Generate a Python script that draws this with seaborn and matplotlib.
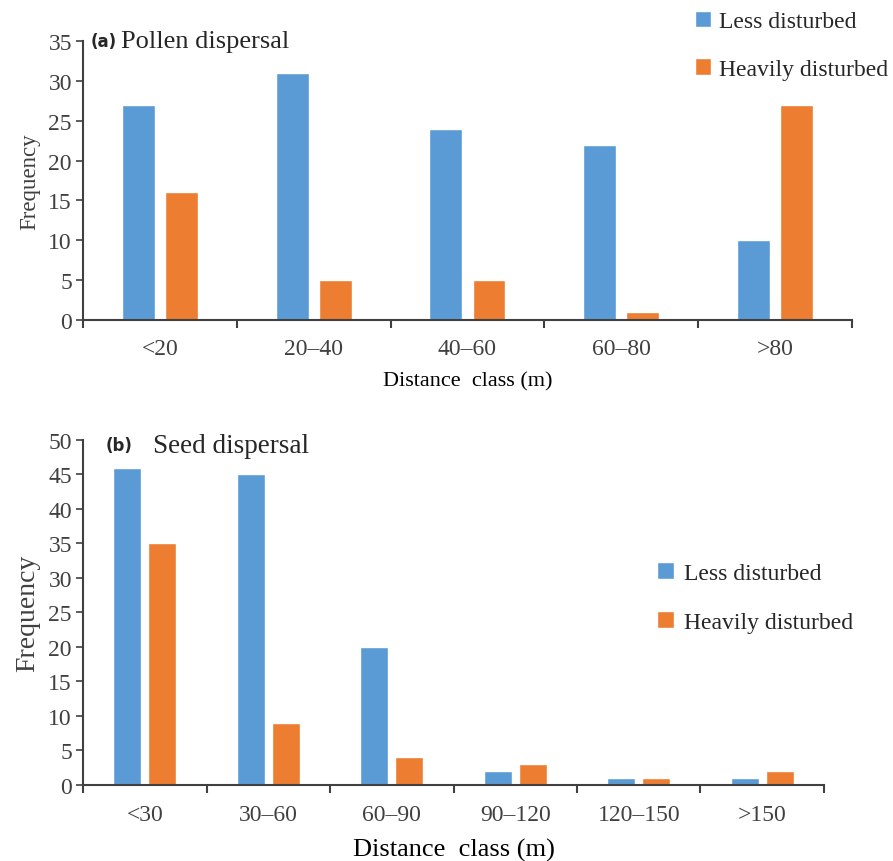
import pandas as pd
import seaborn as sns
import matplotlib.pyplot as plt
from matplotlib.ticker import FixedLocator

# Data
groups = ['Less disturbed', 'Heavily disturbed']
colors = ['#5B9BD5', '#ED7D31']

pollen_classes = ['<20', '20\u201340', '40\u201360', '60\u201380', '>80']
pollen_less = [27, 31, 24, 22, 10]
pollen_heavy = [16, 5, 5, 1, 27]

seed_classes = ['<30', '30\u201360', '60\u201390', '90\u2013120', '120\u2013150', '>150']
seed_less = [46, 45, 20, 2, 1, 1]
seed_heavy = [35, 9, 4, 3, 1, 2]


def long_df(classes, less, heavy):
    return pd.DataFrame({
        'cls': classes * 2,
        'freq': less + heavy,
        'grp': [groups[0]] * len(classes) + [groups[1]] * len(classes),
    })


sns.set_style('white')
plt.rcParams['font.family'] = ['Liberation Serif', 'DejaVu Serif']
spine_col = '#404040'

fig = plt.figure(figsize=(8.93, 8.62), dpi=100)
ax1 = fig.add_axes([0.093, 0.6276, 0.861, 0.3237])
ax2 = fig.add_axes([0.093, 0.0882, 0.8297, 0.4002])


def draw(ax, classes, less, heavy, ymax, width, gap, ylab_fs, xlab_fs, xpad, lpad):
    df = long_df(classes, less, heavy)
    sns.barplot(data=df, x='cls', y='freq', hue='grp', order=classes,
                hue_order=groups, palette=colors, width=width, gap=gap,
                saturation=1, ax=ax, legend=True)
    n = len(classes)
    ax.set_xlim(-0.5, n - 0.5)
    ax.set_ylim(0, ymax)
    ax.set_yticks(range(0, ymax + 1, 5))
    ax.xaxis.set_minor_locator(FixedLocator([i - 0.5 for i in range(n + 1)]))
    ax.tick_params(axis='x', which='major', length=0, pad=xpad, labelsize=17, labelcolor='#404040')
    ax.tick_params(axis='x', which='minor', length=6, width=1.5, color=spine_col, direction='out', bottom=True)
    ax.tick_params(axis='y', length=5, width=1.2, color=spine_col, direction='out', left=True,
                   labelsize=17, labelcolor='#404040', pad=3)
    for s in ['top', 'right']:
        ax.spines[s].set_visible(False)
    for s in ['left', 'bottom']:
        ax.spines[s].set_color(spine_col)
        ax.spines[s].set_linewidth(1.5)
    ax.set_ylabel('Frequency', fontsize=ylab_fs, color='#404040', labelpad=6)
    ax.set_xlabel('Distance  class (m)', fontsize=xlab_fs, color='black', labelpad=lpad)
    handles, labels = ax.get_legend_handles_labels()
    ax.get_legend().remove()
    return handles, labels


h1, l1 = draw(ax1, pollen_classes, pollen_less, pollen_heavy, 35, 0.56, 0.235, 16.5, 16, 13, 9)
fig.legend(h1, l1, loc='upper left', bbox_to_anchor=(0.754, 1.011), frameon=False,
           fontsize=17, handlelength=0.7, handleheight=0.7, handletextpad=0.35,
           labelspacing=1.1)
ax1.text(0.01, 1.0, '(a)', transform=ax1.transAxes, fontsize=12, fontweight='bold',
         family='DejaVu Sans', va='center', ha='left')
ax1.text(0.05, 1.0, 'Pollen dispersal', transform=ax1.transAxes, fontsize=19,
         va='center', ha='left')

h2, l2 = draw(ax2, seed_classes, seed_less, seed_heavy, 50, 0.567, 0.2, 20, 19, 14, 9)
fig.legend(h2, l2, loc='upper left', bbox_to_anchor=(0.712, 0.371), frameon=False,
           fontsize=17, handlelength=0.7, handleheight=0.7, handletextpad=0.45,
           labelspacing=1.15)
ax2.text(0.03, 0.985, '(b)', transform=ax2.transAxes, fontsize=12, fontweight='bold',
         family='DejaVu Sans', va='center', ha='left')
ax2.text(0.095, 0.985, 'Seed dispersal', transform=ax2.transAxes, fontsize=19.5,
         va='center', ha='left')

fig.savefig('out.png', dpi=100)
plt.close(fig)
